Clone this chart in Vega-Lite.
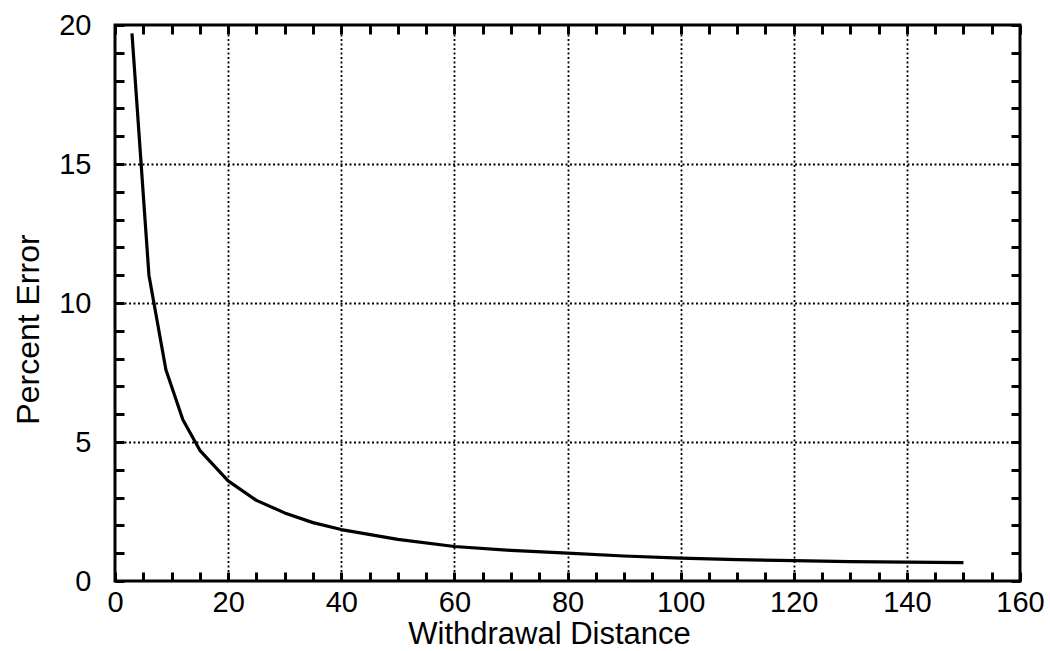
{
  "$schema": "https://vega.github.io/schema/vega-lite/v6.json",
  "width": 905,
  "height": 556,
  "autosize": {"type": "none"},
  "padding": {"left": 115, "top": 25, "right": 30, "bottom": 70},
  "background": "white",
  "config": {
    "view": {"stroke": "black", "strokeWidth": 3},
    "font": "Liberation Sans",
    "axis": {
      "domain": false,
      "labelFont": "Liberation Sans",
      "titleFont": "Liberation Sans",
      "labelColor": "black",
      "titleColor": "black",
      "tickColor": "black",
      "tickWidth": 3,
      "tickSize": -9,
      "titleFontWeight": "normal",
      "gridColor": "black",
      "gridDash": [2, 2.5],
      "gridWidth": 1.8
    }
  },
  "data": {
    "values": [
      {"distance": 3, "error": 19.7},
      {"distance": 6, "error": 11.0},
      {"distance": 9, "error": 7.6},
      {"distance": 12, "error": 5.8},
      {"distance": 15, "error": 4.7},
      {"distance": 20, "error": 3.6},
      {"distance": 25, "error": 2.9},
      {"distance": 30, "error": 2.45},
      {"distance": 35, "error": 2.1},
      {"distance": 40, "error": 1.85},
      {"distance": 50, "error": 1.5},
      {"distance": 60, "error": 1.24},
      {"distance": 70, "error": 1.1},
      {"distance": 80, "error": 1.0},
      {"distance": 90, "error": 0.9},
      {"distance": 100, "error": 0.82},
      {"distance": 110, "error": 0.77},
      {"distance": 120, "error": 0.73},
      {"distance": 130, "error": 0.7},
      {"distance": 140, "error": 0.68},
      {"distance": 150, "error": 0.66}
    ]
  },
  "layer": [
    {
      "mark": {"type": "line", "color": "black", "strokeWidth": 3.2, "strokeJoin": "round"},
      "encoding": {
        "x": {
          "field": "distance", "type": "quantitative",
          "scale": {"domain": [0, 160], "nice": false, "zero": false},
          "axis": {
            "orient": "bottom",
            "title": "Withdrawal Distance",
            "titleFontSize": 31,
            "titleX": 434, "titleY": 62, "titleBaseline": "alphabetic", "titleAlign": "center",
            "values": [0,5,10,15,20,25,30,35,40,45,50,55,60,65,70,75,80,85,90,95,100,105,110,115,120,125,130,135,140,145,150,155,160],
            "labelExpr": "datum.value % 20 === 0 ? datum.label : ''",
            "labelFontSize": 29,
            "labelPadding": 16,
            "labelFlush": false,
            "labelOverlap": false,
            "grid": true,
            "gridOpacity": {"condition": {"test": "datum.value % 20 === 0 && datum.value > 0 && datum.value < 160", "value": 1}, "value": 0}
          }
        },
        "y": {
          "field": "error", "type": "quantitative",
          "scale": {"domain": [0, 20], "nice": false},
          "axis": {
            "orient": "left",
            "title": "Percent Error",
            "titleFontSize": 32,
            "titleAngle": -90,
            "titleX": -77, "titleY": 304, "titleBaseline": "alphabetic", "titleAlign": "center",
            "values": [0,1,2,3,4,5,6,7,8,9,10,11,12,13,14,15,16,17,18,19,20],
            "labelExpr": "datum.value % 5 === 0 ? datum.label : ''",
            "labelFontSize": 29,
            "labelPadding": 33,
            "labelFlush": false,
            "labelOverlap": false,
            "grid": true,
            "gridOpacity": {"condition": {"test": "datum.value % 5 === 0 && datum.value > 0 && datum.value < 20", "value": 1}, "value": 0}
          }
        }
      }
    },
    {
      "mark": {"type": "line", "color": "black", "strokeWidth": 3, "opacity": 0},
      "encoding": {
        "x": {
          "field": "distance", "type": "quantitative",
          "axis": {
            "orient": "top",
            "title": null,
            "labels": false,
            "grid": false,
            "values": [0,5,10,15,20,25,30,35,40,45,50,55,60,65,70,75,80,85,90,95,100,105,110,115,120,125,130,135,140,145,150,155,160]
          }
        },
        "y": {
          "field": "error", "type": "quantitative",
          "axis": {
            "orient": "right",
            "title": null,
            "labels": false,
            "grid": false,
            "values": [0,1,2,3,4,5,6,7,8,9,10,11,12,13,14,15,16,17,18,19,20]
          }
        }
      }
    }
  ]
}
